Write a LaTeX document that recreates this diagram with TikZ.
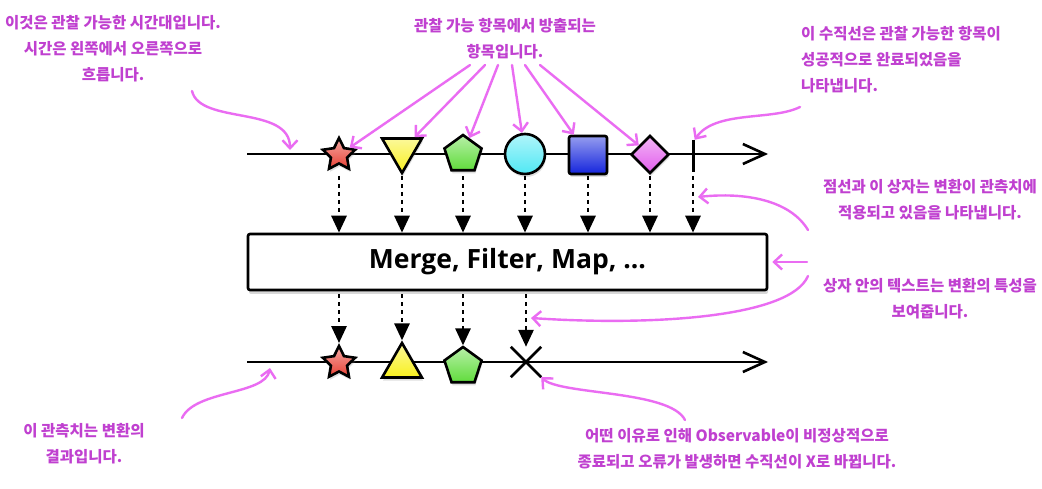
\documentclass[tikz,border=0pt]{standalone}
\usepackage{fontspec}
\usetikzlibrary{arrows.meta, shapes.geometric, shadows}
\newfontfamily\kr{Noto Sans CJK KR}
\newfontfamily\boxfont{Open Sans}
\definecolor{hinttext}{RGB}{192,64,208}
\definecolor{hintline}{RGB}{234,108,242}
\definecolor{itemred}{RGB}{232,64,52}
\definecolor{itemyellow}{RGB}{248,240,30}
\definecolor{itemgreen}{RGB}{96,220,60}
\definecolor{itemcyan}{RGB}{80,232,244}
\definecolor{itemblue}{RGB}{20,36,220}
\definecolor{itempink}{RGB}{226,92,236}
\begin{document}
\begin{tikzpicture}[
    x=1pt, y=-1pt,
    every node/.style={inner sep=0pt},
    note/.style={font={\kr\bfseries\fontsize{15.5}{26}\selectfont}, text=hinttext, align=center},
    hint/.style={draw=hintline, line width=2.4pt, line cap=round, -{Straight Barb[length=8pt,width=15pt]}},
    timeline/.style={line width=2.6pt, -{Straight Barb[length=22pt,width=20pt]}},
    flow/.style={line width=2.8pt, dash pattern=on 4pt off 4pt, -{Triangle[length=17pt,width=15pt]}},
    item/.style={draw=black, line width=2.6pt, top color=#1!45!white, bottom color=#1,
                 drop shadow={shadow xshift=1pt, shadow yshift=-3pt, opacity=.25}},
    box/.style={draw=black, line width=2.6pt, fill=white, rounded corners=2pt,
                minimum width=519pt, minimum height=56pt,
                font={\boxfont\bfseries\fontsize{26.5}{30}\selectfont},
                drop shadow={shadow xshift=1pt, shadow yshift=-4pt, opacity=.3}}
  ]
  \path[use as bounding box, fill=white] (0,0) rectangle (1042,489);

  \coordinate (inA) at (247,154);
  \coordinate (outA) at (768,154);
  \coordinate (inB) at (247,362);
  \coordinate (outB) at (768,362);
  \coordinate (tapout) at (0,176);
  \draw[timeline] (inA) -- (outA);
  \draw[timeline] (inB) -- (outB);

  \node[item=itemred, star, star points=5, star point ratio=2, minimum size=34pt] (s1) at (339,155) {};
  \node[item=itemyellow, regular polygon, regular polygon sides=3, shape border rotate=180, minimum size=46pt] (s2) at (402,150) {};
  \node[item=itemgreen, regular polygon, regular polygon sides=5, minimum size=39pt] (s3) at (463,154.5) {};
  \node[item=itemcyan, circle, minimum size=40pt] (s4) at (525,154) {};
  \node[item=itemblue, rectangle, rounded corners=2pt, minimum size=38pt] (s5) at (588,155) {};
  \node[item=itempink, diamond, minimum size=38pt] (s6) at (650,154.5) {};
  \node[fill=black, minimum width=3pt, minimum height=32pt] (s7) at (693,156) {};

  \node[box] (box) at (507.5,262) {Merge, Filter, Map, ...};

  \node[item=itemred, star, star points=5, star point ratio=2, minimum size=34pt] (b1) at (339,363) {};
  \node[item=itemyellow, regular polygon, regular polygon sides=3, minimum size=46pt] (b2) at (402,366) {};
  \node[item=itemgreen, regular polygon, regular polygon sides=5, minimum size=39pt] (b3) at (463,366.5) {};
  \node[minimum size=30pt] (b4) at (526,362) {};
  \draw[line width=2.6pt] (b4.north west) -- (b4.south east) (b4.north east) -- (b4.south west);

  \foreach \n in {s1,s2,s3,s4,s5,s6,s7}
    \draw[flow] (\n |- tapout) -- (\n |- box.north);
  \foreach \n in {b1,b2,b3,b4}
    \draw[flow, shorten <=3pt] (\n |- box.south) -- (\n.north);

  \node[note] (timenote) at (113,49) {이것은 관찰 가능한 시간대입니다.\\시간은 왼쪽에서 오른쪽으로\\흐릅니다.};
  \node[note] (emitnote) at (505,38.5) {관찰 가능 항목에서 방출되는\\항목입니다.};
  \node[note, align=left, anchor=west] (donenote) at (801,60) {이 수직선은 관찰 가능한 항목이\\성공적으로 완료되었음을\\나타냅니다.};
  \node[note] (opnote) at (930,200) {점선과 이 상자는 변환이 관측치에\\적용되고 있음을 나타냅니다.};
  \node[note] (textnote) at (930,299) {상자 안의 텍스트는 변환의 특성을\\보여줍니다.};
  \node[note] (resultnote) at (84,444) {이 관측치는 변환의\\결과입니다.};
  \node[note] (errnote) at (737,448.5) {어떤 이유로 인해 Observable이 비정상적으로\\종료되고 오류가 발생하면 수직선이 X로 바뀝니다.};

  \foreach \dx/\n in {-35/s1,-20/s2,-7/s3,7/s4,20/s5,35/s6}
    \draw[hint] ([xshift=\dx pt, yshift=-6pt]emitnote.south) -- (\n);

  \coordinate (timehint) at (192,91);
  \coordinate (timetip) at (290,150);
  \coordinate (donehint) at (800,107);
  \coordinate (ophint) at (808,230);
  \coordinate (optip) at (698,197);
  \coordinate (boxhint) at (807,262);
  \coordinate (texthint) at (808,276);
  \coordinate (texttip) at (531,318);
  \coordinate (resulthint) at (182,418);
  \coordinate (resulttip) at (270,368);
  \coordinate (errhint) at (685,420);
  \draw[hint] (timehint) .. controls (200,125) and (290,105) .. (timetip);
  \draw[hint] (donehint) .. controls (772,121) and (715,110) .. (s7.north east);
  \draw[hint] (ophint) .. controls (790,200) and (745,192) .. (optip);
  \draw[hint] (boxhint) -- ([xshift=4pt]box.east);
  \draw[hint] (texthint) .. controls (790,318) and (650,326) .. (texttip);
  \draw[hint] (resulthint) .. controls (195,390) and (265,395) .. (resulttip);
  \draw[hint] (errhint) .. controls (670,390) and (560,395) .. (b4.south east);
\end{tikzpicture}
\end{document}
